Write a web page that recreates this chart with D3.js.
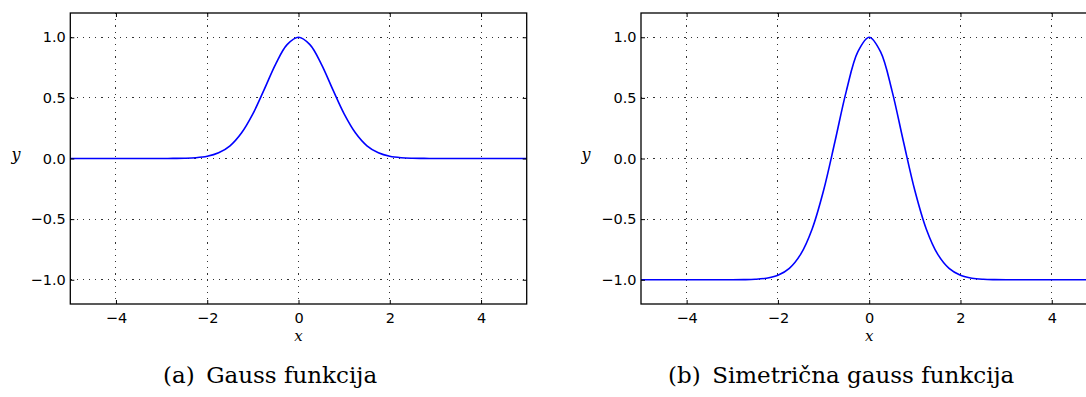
<!DOCTYPE html>
<html>
<head>
<meta charset="utf-8">
<script src="https://cdn.jsdelivr.net/npm/d3@7"></script>
<style>
  html, body { margin: 0; padding: 0; background: #fff; overflow: hidden; }
  svg { display: block; }
  .tick text { font-family: 'DejaVu Sans', 'Liberation Sans', sans-serif; font-size: 14.5px; fill: #000; }
  .lbl { font-family: 'DejaVu Serif', 'Liberation Serif', serif; font-style: italic; font-size: 16px; fill: #000; }
  .cap { font-family: 'DejaVu Serif', 'Liberation Serif', serif; font-size: 23px; fill: #000; }
</style>
</head>
<body>
<svg id="chart" width="1086" height="397"></svg>
<script>
// ---- data ----
const xValues = [-5, -4.75, -4.5, -4.25, -4, -3.75, -3.5, -3.25, -3, -2.75, -2.5, -2.25, -2, -1.75, -1.5, -1.25, -1, -0.75, -0.5, -0.25, 0,
                 0.25, 0.5, 0.75, 1, 1.25, 1.5, 1.75, 2, 2.25, 2.5, 2.75, 3, 3.25, 3.5, 3.75, 4, 4.25, 4.5, 4.75, 5];
const gaussValues = [0, 0, 0, 0, 0, 0, 0, 0, 0, 0.001, 0.002, 0.006, 0.018, 0.047, 0.105, 0.210, 0.368, 0.570, 0.779, 0.939, 1,
                     0.939, 0.779, 0.570, 0.368, 0.210, 0.105, 0.047, 0.018, 0.006, 0.002, 0.001, 0, 0, 0, 0, 0, 0, 0, 0, 0];
const symValues = [-1, -1, -1, -1, -1, -1, -1, -1, -1, -0.999, -0.996, -0.987, -0.963, -0.906, -0.789, -0.581, -0.264, 0.140, 0.558, 0.879, 1,
                   0.879, 0.558, 0.140, -0.264, -0.581, -0.789, -0.906, -0.963, -0.987, -0.996, -0.999, -1, -1, -1, -1, -1, -1, -1, -1, -1];
const xTicks = [-4, -2, 0, 2, 4];
const yTicks = [-1.0, -0.5, 0.0, 0.5, 1.0];
const xDomain = [-5, 5];
const yDomain = [-1.2, 1.2];
const panels = [
  { values: gaussValues, caption: "(a)\u2002Gauss funkcija", left: 70.3, ylabelX: 16, captionX: 163 },
  { values: symValues, caption: "(b)\u2002Simetrična gauss funkcija", left: 641, ylabelX: 586, captionX: 668 }
];

// ---- drawing ----
const svg = d3.select("#chart");
const plotW = 456.4, plotTop = 13, plotBottom = 304;
const fmt = v => (v < 0 ? "\u2212" : "") + Math.abs(v).toFixed(1);
const fmtX = v => (v < 0 ? "\u2212" : "") + Math.abs(v);

panels.forEach(p => {
  const x = d3.scaleLinear().domain(xDomain).range([p.left, p.left + plotW]);
  const y = d3.scaleLinear().domain(yDomain).range([plotBottom, plotTop]);
  const g = svg.append("g");

  // grid
  g.selectAll(".vg").data(xTicks).enter().append("line")
    .attr("x1", d => x(d)).attr("x2", d => x(d)).attr("y1", plotTop).attr("y2", plotBottom)
    .attr("stroke", "#000").attr("stroke-width", 0.8).attr("stroke-dasharray", "1.2,5").attr("shape-rendering", "crispEdges");
  g.selectAll(".hg").data(yTicks).enter().append("line")
    .attr("x1", p.left).attr("x2", p.left + plotW).attr("y1", d => y(d)).attr("y2", d => y(d))
    .attr("stroke", "#000").attr("stroke-width", 0.8).attr("stroke-dasharray", "1.2,5").attr("shape-rendering", "crispEdges");

  // curve
  const line = d3.line().x((d, i) => x(xValues[i])).y(d => y(d)).curve(d3.curveCatmullRom.alpha(0.5));
  g.append("path").datum(p.values).attr("d", line)
    .attr("fill", "none").attr("stroke", "#0000ff").attr("stroke-width", 1.6);

  // axes with inward ticks
  const axB = d3.axisBottom(x).tickValues(xTicks).tickFormat(fmtX).tickSizeInner(-4).tickSizeOuter(0).tickPadding(9);
  const axT = d3.axisTop(x).tickValues(xTicks).tickFormat("").tickSizeInner(-4).tickSizeOuter(0);
  const axL = d3.axisLeft(y).tickValues(yTicks).tickFormat(fmt).tickSizeInner(-4).tickSizeOuter(0).tickPadding(4.5);
  const axR = d3.axisRight(y).tickValues(yTicks).tickFormat("").tickSizeInner(-4).tickSizeOuter(0);
  [[axB, `translate(0,${plotBottom})`], [axT, `translate(0,${plotTop})`], [axL, `translate(${p.left},0)`], [axR, `translate(${p.left + plotW},0)`]]
    .forEach(([ax, tr]) => {
      const a = g.append("g").attr("transform", tr).call(ax);
      a.attr("font-family", null).attr("font-size", null);
      a.select(".domain").remove();
      a.selectAll("line").attr("stroke", "#000").attr("stroke-width", 1);
    });

  // frame
  g.append("rect").attr("x", p.left).attr("y", plotTop).attr("width", plotW).attr("height", plotBottom - plotTop)
    .attr("fill", "none").attr("stroke", "#000").attr("stroke-width", 1.3);

  // axis labels
  g.append("text").attr("class", "lbl").attr("x", x(0)).attr("y", 341).attr("text-anchor", "middle")
    .style("font-size", "15px").text("x");
  g.append("text").attr("class", "lbl").attr("x", p.ylabelX).attr("y", y(0) + 1).attr("text-anchor", "middle").text("y");

  // caption
  g.append("text").attr("class", "cap").attr("x", p.captionX).attr("y", 383).text(p.caption);
});
</script>
</body>
</html>
